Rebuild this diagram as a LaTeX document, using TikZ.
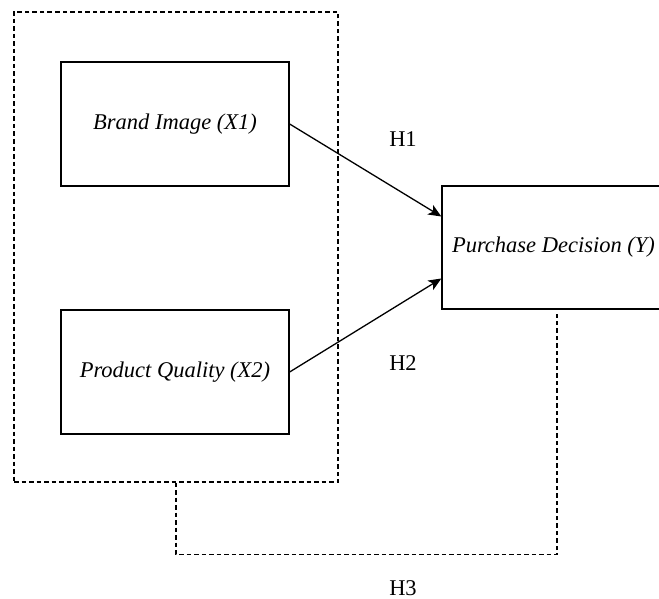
\documentclass[tikz,border=0pt]{standalone}
\usepackage{fontspec}
\setmainfont{Liberation Serif}
\usetikzlibrary{arrows.meta,calc}
\begin{document}
\begin{tikzpicture}[x=1pt,y=-1pt,
	boite/.style={draw, line width=1.3pt, inner sep=0pt, minimum width=228pt, minimum height=124pt, font=\fontsize{22.5}{27}\selectfont\itshape},
	etiquette/.style={font=\fontsize{22.5}{27}\selectfont},
	pointille/.style={line width=1.1pt, dash pattern=on 4.5pt off 3pt},
	fleche/.style={line width=1.3pt, -{Stealth[length=13pt,width=11pt,inset=3.5pt]}}]
	% le cadre
	\useasboundingbox (0,0) rectangle (659,599);
	\clip (0,0) rectangle (659,599);
	\fill[white] (0,0) rectangle (659,599);
	% les variables
	\node[pointille, draw, minimum width=324pt, minimum height=470pt] (groupe) at (176,247) {};
	\node[boite] (image) at (175,124) {Brand Image (X1)};
	\node[boite] (qualite) at (175,372) {Product Quality (X2)};
	\node[boite, minimum width=223pt, minimum height=123pt] (decision) at (553.5,247.5) {Purchase Decision (Y)};
	% les hypotheses
	\draw[fleche] (image.east) -- ($(decision.west)+(0,-31)$);
	\draw[fleche] (qualite.east) -- ($(decision.west)+(0,31)$);
	\coordinate (bas) at ($(decision.south)+(3.5,4)$);
	\draw[pointille] (groupe.south) -- ++(0,72) -| (bas);
	\node[etiquette] (h1) at (403,139) {H1};
	\node[etiquette] (h2) at (403,363) {H2};
	\node[etiquette] (h3) at (403,588) {H3};
\end{tikzpicture}
\end{document}
